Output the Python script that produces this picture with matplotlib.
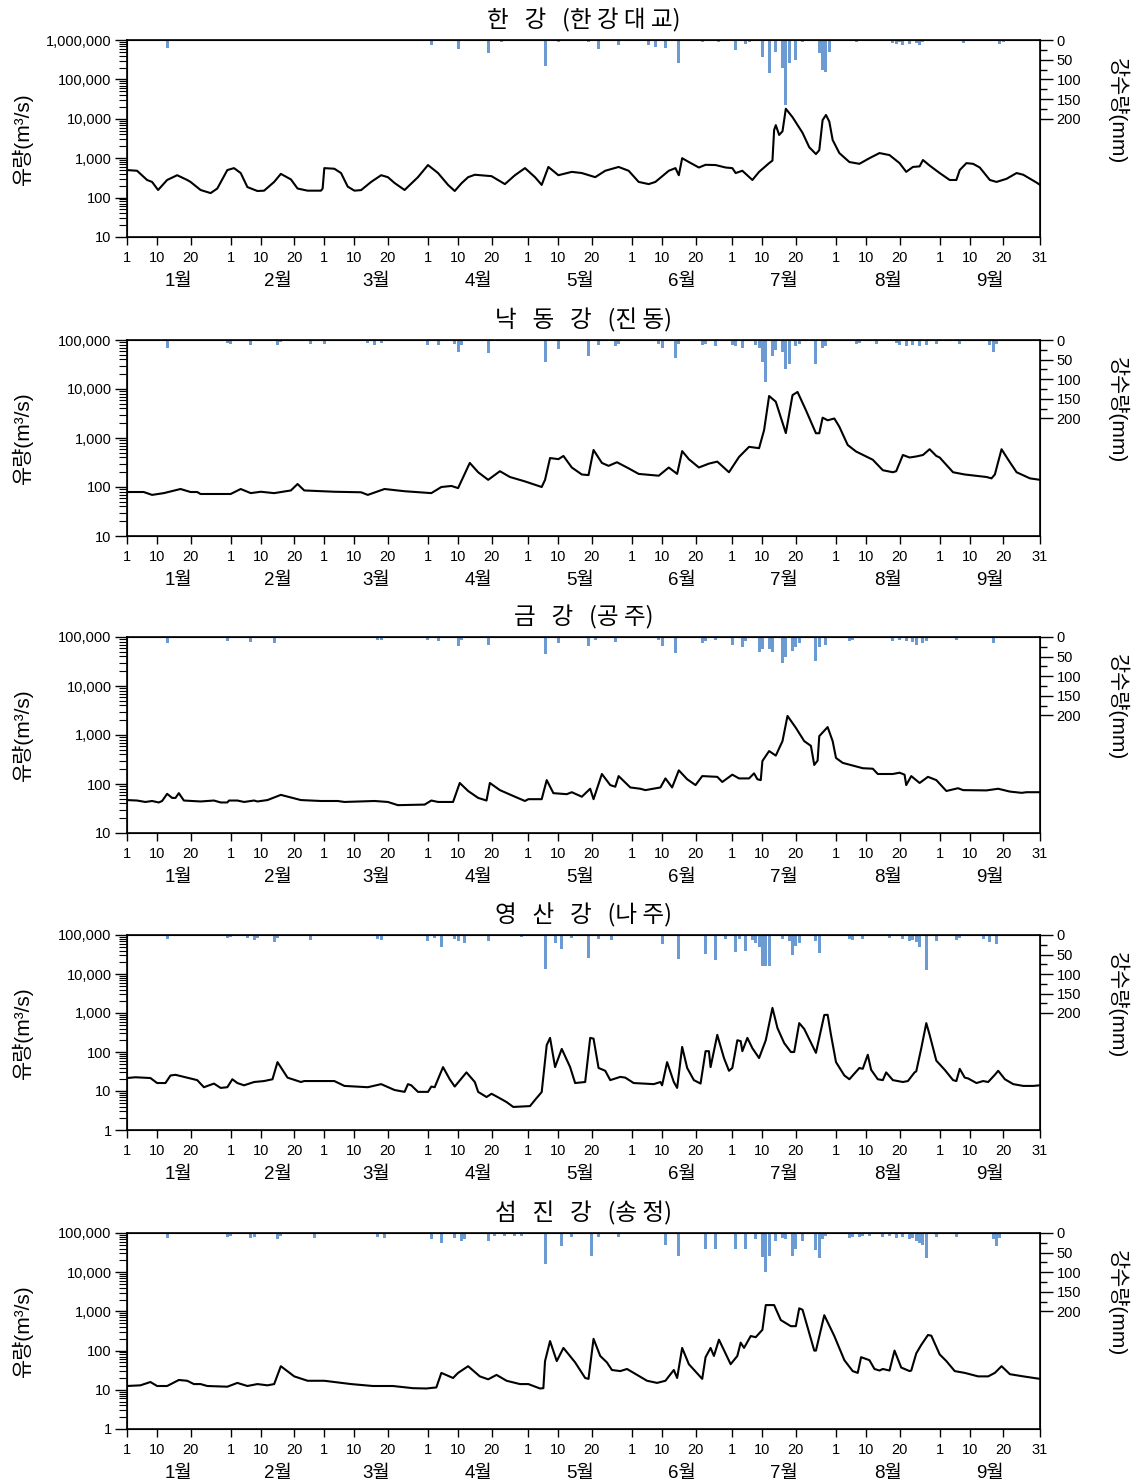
import numpy as np
import matplotlib
matplotlib.use("Agg")
import matplotlib.pyplot as plt
from matplotlib.ticker import FixedLocator, LogLocator, NullFormatter

plt.rcParams['font.family'] = ['Liberation Sans', 'Noto Sans CJK KR']

# ---- 데이터 (그림에서 읽은 값, x = 1월1일부터의 일수) ----
# 한강 (한강대교)
han_days = [0, 3, 6, 7.5, 9.3, 12, 15, 18, 19, 22, 25, 27, 30, 32, 34, 36, 39, 41, 44, 46, 49, 51, 54, 58, 58.5,
            59, 62, 64, 66, 68, 70, 73, 76, 78, 80, 83, 87, 90, 93, 96, 98, 100, 102, 104, 109, 113, 116, 119, 122,
            124, 126, 129, 133, 136, 140, 143, 147, 150, 153, 156, 158, 162, 164, 165, 166, 168, 171, 173, 176, 179,
            181, 182, 184, 187, 189, 192, 193, 193.5, 194, 195, 196, 197, 199, 202, 204, 206, 207, 208, 209, 210,
            211, 213, 216, 219, 222, 225, 228, 231, 233, 235, 237, 238, 240, 243, 246, 248, 249, 251, 253, 255, 258,
            260, 263, 266, 268, 272, 273]
han_flow = [500, 480, 280, 250, 156, 280, 370, 280, 250, 156, 130, 170, 500, 560, 420, 185, 147, 150, 250, 400, 290,
            170, 150, 150, 170, 560, 540, 420, 190, 150, 155, 250, 370, 330, 235, 156, 330, 670, 420, 210, 147, 230,
            330, 380, 350, 220, 370, 560, 330, 210, 600, 370, 450, 420, 330, 480, 600, 480, 250, 220, 250, 480, 560,
            370, 1000, 800, 580, 680, 670, 580, 560, 420, 480, 280, 450, 750, 870, 5200, 6900, 3900, 4800, 18000,
            11000, 4400, 1900, 1270, 1600, 9300, 12500, 8500, 2900, 1350, 800, 720, 1000, 1350, 1200, 750, 450, 600,
            620, 900, 650, 420, 280, 280, 500, 750, 720, 580, 280, 250, 300, 420, 380, 240, 210]
han_rain_days = [12, 30, 37, 44, 74, 91, 99, 108, 112, 125, 129, 138, 141, 147, 156, 158, 161, 165, 172, 177, 182,
                 185, 186, 190, 192, 194, 196, 197, 198, 200, 202, 207, 208, 209, 210, 218, 229, 230, 231, 232, 234,
                 236, 237, 238, 250, 261, 262]
han_rain = [20, 3, 3, 3, 3, 12, 23, 33, 5, 65, 5, 5, 22, 12, 12, 18, 20, 58, 5, 5, 25, 10, 4, 42, 85, 30, 70, 165, 58,
            50, 5, 33, 75, 80, 30, 5, 8, 10, 6, 12, 10, 8, 12, 6, 8, 10, 5]

# 낙동강 (진동)
nak_days = [0, 5, 7.5, 11, 16, 19, 21, 22, 31, 34, 37, 40, 44, 49, 51, 53, 62, 70, 72, 77, 83, 91, 94, 97, 99, 102.5,
            105, 108, 111.5, 114.5, 119, 124, 125, 126.5, 129, 130.5, 133, 136, 138, 139.5, 142, 144, 146.5, 150, 153,
            159, 162, 164.5, 166, 168, 171, 174, 176.5, 180, 183, 186, 189, 190.5, 192, 194, 197, 199, 200.5, 203,
            206, 207, 208, 209.5, 211.5, 213, 215.5, 218, 223, 226, 229, 230, 232, 234, 236, 238, 240, 242, 243, 247,
            250.5, 257, 258.5, 259.5, 261.5, 263.5, 266, 270, 273]
nak_flow = [79, 79, 69, 75, 91, 79, 79, 72, 72, 91, 75, 80, 75, 85, 115, 85, 80, 78, 69, 91, 82, 75, 100, 105, 95,
            310, 200, 140, 210, 160, 130, 100, 140, 390, 370, 430, 250, 180, 175, 570, 310, 270, 320, 240, 185, 170,
            250, 185, 540, 370, 250, 300, 330, 200, 410, 660, 620, 1450, 7200, 5500, 1260, 7500, 8700, 3700, 1250,
            1250, 2600, 2300, 2500, 1700, 720, 530, 360, 220, 200, 210, 450, 400, 420, 450, 590, 430, 400, 200, 180,
            160, 150, 180, 590, 360, 200, 150, 140]
nak_rain_days = [12, 30, 31, 37, 45, 46, 55, 59, 72, 74, 76, 90, 93, 98, 99, 100, 108, 125, 129, 138, 141, 146, 147,
                 159, 160, 164, 165, 172, 173, 176, 181, 182, 184, 188, 189, 190, 191, 193, 194, 196, 197, 198, 200,
                 201, 206, 208, 209, 218, 219, 224, 230, 231, 233, 235, 237, 239, 242, 249, 258, 259, 260]
nak_rain = [20, 8, 10, 12, 12, 5, 10, 10, 8, 12, 8, 12, 12, 10, 30, 12, 32, 57, 23, 42, 12, 15, 10, 10, 20, 45, 10,
            12, 10, 15, 12, 15, 20, 12, 20, 55, 107, 40, 25, 30, 73, 62, 15, 10, 62, 20, 15, 10, 8, 10, 8, 12, 15, 12,
            15, 12, 10, 10, 12, 30, 10]

# 금강 (공주)
geum_days = [0, 3, 5.5, 7.5, 9.5, 10.5, 12, 13.5, 14.5, 15.5, 17, 22, 26, 28, 30, 30.5, 33, 35, 38, 39, 42, 46, 52,
             58, 63, 65, 74, 78, 81, 89, 91, 93, 97.5, 99.5, 102, 105, 107.5, 108.5, 111.5, 116, 119, 120, 124, 125.5,
             127.5, 131.5, 133, 136, 138.5, 139.5, 142, 144.5, 146, 147, 150.5, 153.5, 155, 159.5, 161, 163, 165,
             167.5, 170, 172, 176.5, 178, 181, 183, 186, 187.5, 188.5, 189.5, 190, 192, 194, 196, 197.5, 200, 202.5,
             204.5, 205.5, 206.5, 207, 209.5, 211, 212, 214, 220, 223, 224.5, 229, 231, 232.5, 233, 234.5, 237, 239.5,
             242, 245, 248.5, 250, 257, 260.5, 264, 267.5, 269, 273]
geum_flow = [47, 46, 43, 45, 42, 45, 63, 52, 52, 65, 46, 44, 46, 42, 42, 46, 46, 43, 46, 44, 47, 60, 47, 45, 45, 43,
             45, 43, 37, 38, 46, 43, 43, 105, 72, 52, 46, 105, 75, 55, 45, 49, 49, 120, 65, 62, 68, 55, 80, 49, 160, 95,
             88, 145, 85, 80, 75, 85, 130, 85, 190, 125, 95, 145, 140, 110, 155, 130, 130, 165, 125, 120, 295, 470,
             380, 750, 2450, 1400, 750, 600, 245, 300, 950, 1450, 750, 340, 270, 210, 205, 160, 160, 170, 155, 95, 145,
             105, 140, 120, 72, 82, 75, 74, 80, 70, 66, 68, 68]
geum_rain_days = [12, 30, 37, 44, 75, 76, 90, 93, 99, 100, 108, 125, 129, 138, 140, 146, 159, 160, 164, 172, 173, 176,
                  181, 184, 185, 189, 190, 192, 193, 196, 197, 199, 200, 201, 206, 207, 209, 216, 217, 229, 231, 233,
                  235, 236, 238, 239, 248, 259]
geum_rain = [15, 10, 12, 15, 8, 8, 8, 10, 22, 8, 20, 43, 15, 22, 8, 12, 8, 22, 40, 15, 10, 8, 20, 25, 10, 37, 30, 30,
             37, 67, 50, 35, 25, 15, 62, 25, 20, 10, 8, 10, 8, 10, 12, 20, 15, 10, 8, 15]

# 영산강 (나주)
ys_days = [0, 2.5, 7, 9, 11.5, 13, 14.5, 18, 21, 23, 26, 28, 30, 31.5, 33, 35, 38, 41, 43.5, 45, 48, 52, 53, 62, 65,
           72, 76, 80, 83, 84, 85, 87, 90, 91, 92, 94.5, 96.5, 98, 101.5, 104, 105, 107.5, 109, 111.5, 113.5, 115.5,
           120.5, 122, 124, 125.5, 126.5, 128, 130, 132.5, 134, 137, 138.5, 139.5, 141, 143, 144.5, 147.5, 149, 151.5,
           157.5, 159.5, 160, 161.5, 163.5, 164.5, 166, 167.5, 169.5, 171.5, 173, 174, 174.5, 176.5, 178.5, 180, 181,
           182.5, 183.5, 184, 185.5, 187, 189, 191, 193, 194.5, 196.5, 198.5, 199.5, 201, 202.5, 206, 208.5, 209.5,
           210.5, 212, 214.5, 216, 219, 220, 221.5, 222.5, 224.5, 226, 227, 229, 232, 233.5, 235.5, 236, 237.5, 239,
           240, 242, 244.5, 247, 248, 249, 250.5, 251.5, 254, 256, 257.5, 259.5, 260.5, 262.5, 265, 268, 271, 273]
ys_flow = [21.5, 22.5, 21.5, 16, 16, 25, 26, 22, 19, 12.5, 15.5, 12, 12.5, 20, 16, 14, 17, 18, 20, 55, 22, 17, 18, 18,
           13.5, 12.5, 15, 10.6, 9.5, 15, 14, 9.5, 9.5, 13, 12.5, 41, 20, 13, 30, 17, 9.5, 7, 8.5, 6.5, 5.2, 3.9, 4.1,
           5.9, 9.4, 150, 230, 41, 120, 41, 16, 17, 230, 220, 39, 33, 19, 23, 22, 16, 15, 17, 14, 55, 17, 12, 135, 39,
           19, 15.5, 105, 105, 41, 275, 70, 33, 39, 200, 190, 105, 230, 125, 70, 200, 1350, 410, 170, 100, 100, 550,
           390, 95, 890, 900, 275, 55, 25, 20, 39, 37, 85, 35, 20, 19, 30, 19, 17, 18, 30, 32, 125, 550, 275, 60, 35,
           19, 18, 37, 22, 21, 16, 18, 17, 26, 33, 20, 15, 13.5, 13.5, 14]
ys_rain_days = [12, 30, 31, 36, 38, 39, 44, 45, 55, 75, 76, 90, 92, 94, 98, 99, 101, 108, 118, 125, 128, 130, 133, 138,
                141, 145, 160, 165, 173, 176, 179, 182, 183, 185, 187, 188, 189, 190, 191, 192, 196, 198, 199, 200, 201,
                206, 207, 216, 217, 220, 228, 232, 234, 235, 236, 237, 239, 242, 248, 249, 256, 258, 260]
ys_rain = [10, 8, 5, 8, 12, 8, 18, 8, 12, 10, 12, 15, 8, 30, 10, 15, 20, 15, 5, 88, 20, 35, 8, 60, 10, 12, 22, 62, 48,
           65, 10, 43, 10, 40, 12, 20, 30, 80, 80, 80, 10, 15, 50, 27, 20, 15, 45, 10, 12, 10, 8, 10, 15, 12, 18, 30,
           90, 15, 12, 8, 10, 18, 22]

# 섬진강 (송정)
sj_days = [0, 4, 7, 9, 12, 15.5, 18, 20, 22, 24, 30, 33, 36, 39, 42, 44, 46, 50, 54, 59, 67, 73.5, 79.5, 85.5, 89.5,
           92.5, 94, 97.5, 99, 102, 105.5, 108, 110.5, 113.5, 117.5, 120, 123.5, 124.5, 125, 126.5, 128.5, 130.5, 134,
           137, 138, 139.5, 141.5, 143.5, 145, 147.5, 149.5, 151.5, 155.5, 158.5, 161, 163.5, 164.5, 166, 168, 172,
           173, 174.5, 175.5, 177, 180.5, 182.5, 183.5, 184.5, 186.5, 188, 190, 191, 193.5, 195.5, 198.5, 200, 201,
           202, 205.5, 206, 208.5, 211.5, 214.5, 217, 218.5, 219.5, 222, 223.5, 225, 226, 228, 229.5, 231.5, 234,
           234.5, 236, 237.5, 239.5, 240.5, 243, 245, 247.5, 250.5, 254.5, 257.5, 259.5, 261.5, 264, 268, 273]
sj_flow = [12.5, 13, 15.8, 12.5, 12.5, 17.8, 17, 14, 14, 12.5, 12, 15, 12.5, 14, 13, 14, 40, 22, 17, 17, 14, 12.5,
           12.5, 11, 10.8, 11.5, 27, 20, 27, 40, 22, 18.5, 24, 17, 14, 14, 10.8, 11, 54, 175, 54, 117, 50, 20, 19, 200,
           73, 50, 32, 30, 34, 27, 17, 15, 17, 32, 20, 117, 45, 19, 68, 117, 73, 190, 45, 73, 160, 117, 235, 220, 340,
           1450, 1450, 600, 420, 420, 1200, 1100, 100, 100, 800, 235, 57, 30, 27, 68, 57, 34, 31, 34, 31, 100, 37, 30,
           31, 85, 140, 250, 240, 80, 54, 30, 27, 22, 22, 27, 40, 25, 22, 19]
sj_rain_days = [12, 30, 31, 37, 38, 45, 46, 56, 75, 77, 91, 94, 98, 100, 101, 108, 110, 113, 116, 118, 125, 130, 133,
                139, 141, 147, 161, 165, 173, 176, 182, 185, 188, 190, 191, 192, 194, 196, 197, 199, 200, 202, 206,
                207, 208, 209, 216, 217, 219, 220, 222, 226, 228, 230, 232, 234, 235, 236, 237, 238, 239, 242, 248,
                259, 260, 261]
sj_rain = [12, 10, 8, 12, 10, 15, 8, 12, 10, 12, 15, 25, 12, 20, 15, 20, 8, 8, 8, 8, 80, 33, 10, 58, 10, 10, 30, 58,
           42, 42, 40, 40, 15, 62, 100, 58, 20, 12, 15, 58, 42, 20, 43, 65, 15, 8, 12, 10, 10, 8, 8, 10, 8, 12, 10,
           15, 12, 20, 25, 30, 65, 10, 10, 15, 33, 12]

titles = ["한   강   (한 강 대 교)", "낙   동   강   (진 동)", "금   강   (공 주)",
          "영   산   강   (나 주)", "섬   진   강   (송 정)"]
flow_ylims = [(10, 1e6), (10, 1e5), (10, 1e5), (1, 1e5), (1, 1e5)]
month_len = [31, 28, 31, 30, 31, 30, 31, 31, 30]
month_names = ["%d월" % (m + 1) for m in range(9)]

rivers = [
    (han_days, han_flow, han_rain_days, han_rain),
    (nak_days, nak_flow, nak_rain_days, nak_rain),
    (geum_days, geum_flow, geum_rain_days, geum_rain),
    (ys_days, ys_flow, ys_rain_days, ys_rain),
    (sj_days, sj_flow, sj_rain_days, sj_rain),
]

# ---- 레이아웃 (픽셀 기준) ----
W, H = 1138, 1482
left_px, right_px = 127, 1040
panel_px = [(40, 237), (340, 536), (637, 833), (935, 1130), (1233, 1429)]
x_end = 273

month_start = np.cumsum([0] + month_len[:-1])
xticks, xlabels = [], []
for s in month_start:
    xticks += [s, s + 9, s + 19]
    xlabels += ["1", "10", "20"]
xticks.append(x_end)
xlabels.append("31")
month_mid = month_start + np.array(month_len) / 2.0

fig = plt.figure(figsize=(W / 100, H / 100), dpi=100)

for i, (days, flow, rdays, rain) in enumerate(rivers):
    top, bot = panel_px[i]
    ax = fig.add_axes([left_px / W, 1 - bot / H, (right_px - left_px) / W, (bot - top) / H])
    ax2 = ax.twinx()

    # 강수량 (오른쪽 축, 위에서 아래로)
    ax2.bar(rdays, rain, width=0.9, color="#6b9bd2", linewidth=0)
    ax2.set_ylim(500, 0)
    ax2.set_yticks([0, 50, 100, 150, 200])
    ax2.set_yticks([25, 75, 125, 175], minor=True)
    ax2.tick_params(axis="y", which="major", direction="out", length=9, width=1, labelsize=10.5, pad=3)
    ax2.tick_params(axis="y", which="minor", direction="out", length=5, width=1)
    ax2.set_ylabel("강수량(mm)", fontsize=15, rotation=270, va="center", ha="center")
    ax2.yaxis.set_label_coords(1.085, 0.64)

    # 유량 (왼쪽 축, log)
    ax.plot(days, flow, color="black", lw=1.5)
    ax.set_yscale("log")
    lo, hi = flow_ylims[i]
    ax.set_ylim(lo, hi)
    ax.set_xlim(0, x_end)
    decades = [10 ** k for k in range(int(round(np.log10(lo))), int(round(np.log10(hi))) + 1)]
    ax.yaxis.set_major_locator(FixedLocator(decades))
    ax.set_yticklabels(["{:,}".format(int(v)) for v in decades])
    ax.yaxis.set_minor_locator(LogLocator(base=10, subs=np.arange(2, 10)))
    ax.yaxis.set_minor_formatter(NullFormatter())
    ax.tick_params(axis="y", which="major", direction="out", length=9, width=1, labelsize=10.5, pad=2)
    ax.tick_params(axis="y", which="minor", direction="out", length=6, width=0.8)
    ax.set_ylabel("유량(m³/s)", fontsize=15, va="center", ha="center")
    ax.yaxis.set_label_coords(-0.115, 0.5)

    ax.set_xticks(xticks)
    ax.set_xticklabels(xlabels)
    ax.set_xticks(month_mid, minor=True)
    ax.set_xticklabels(month_names, minor=True)
    ax.tick_params(axis="x", which="major", direction="out", length=6, width=1, labelsize=10.5, pad=4)
    ax.tick_params(axis="x", which="minor", length=0, labelsize=13.5, pad=26)

    for sp in ax.spines.values():
        sp.set_linewidth(1.2)

    ax.text(0.5, 1 + 20 / (bot - top), titles[i], transform=ax.transAxes, ha="center", va="center",
            fontsize=17, family=["Noto Sans CJK KR", "DejaVu Sans"])

fig.savefig("out.png", dpi=100)
